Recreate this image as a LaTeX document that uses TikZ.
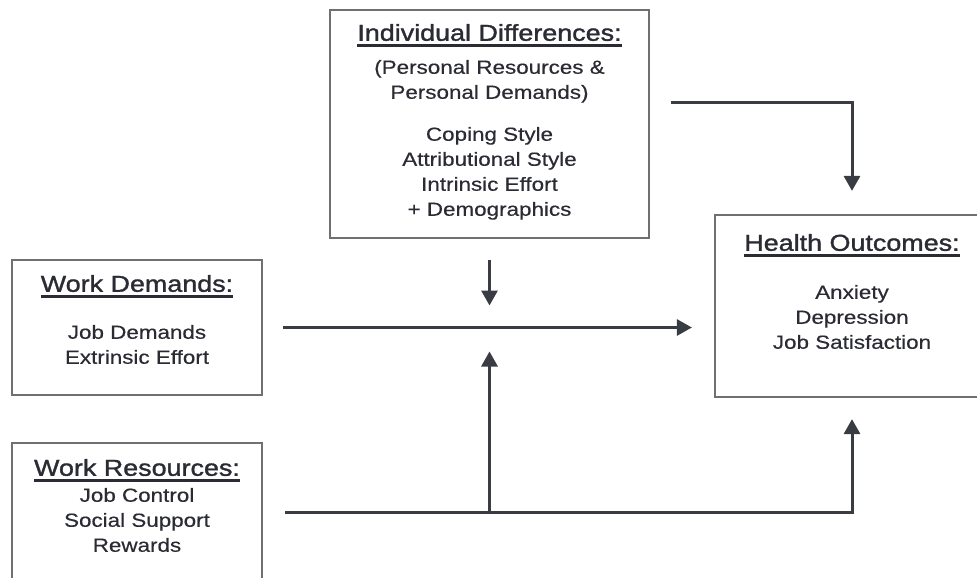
\documentclass[tikz,border=0pt]{standalone}
\usepackage{fontspec}
\setmainfont{Liberation Sans}[FakeStretch=1.18,FakeBold=0.4]
\newfontfamily\ttlfont{Liberation Sans}[FakeStretch=1.17,FakeBold=1.4]
\usetikzlibrary{arrows.meta,positioning}
\definecolor{ink}{HTML}{2A2B33}
\definecolor{rim}{HTML}{707070}
\definecolor{wire}{HTML}{393C43}
\newsavebox\hdrbox
\newcommand\hdr[1]{\sbox\hdrbox{#1}\rlap{\rule[-6pt]{\wd\hdrbox}{2.4pt}}\usebox\hdrbox}
\newcommand\ttlsize{\ttlfont\fontsize{23}{25}\selectfont}
\newcommand\bodysize{\fontsize{19}{25}\selectfont}

\begin{document}
\begin{tikzpicture}[
        x=1pt,y=-1pt,
        panel/.style={draw=rim,line width=2.2pt,fill=white,inner sep=0pt},
        txt/.style={text=ink,align=center,inner sep=0pt,font=\bodysize},
        arr/.style={-{Triangle[length=15pt,width=16pt]},line width=3pt,draw=wire}
      ]
        \useasboundingbox (0,0) rectangle (977,578);
        % boxes
        \node[panel,minimum width=319pt,minimum height=228pt] (ind) at (489.5,124) {};
        \node[panel,minimum width=274pt,minimum height=182pt] (hlth) at (852,306) {};
        \node[panel,minimum width=250pt,minimum height=135pt] (dem) at (137,327.5) {};
        \node[panel,minimum width=250pt,minimum height=138pt] (res) at (137,512) {};
        % box texts
        \node[txt,below=15pt of ind.north] (indtxt) {{\ttlsize\hdr{Individual Differences:}}\\[8pt]
          (Personal Resources \&\\Personal Demands)\\[17pt]
          Coping Style\\Attributional Style\\Intrinsic Effort\\+ Demographics};
        \node[txt,below=20pt of hlth.north] (hlthtxt) {{\ttlsize\hdr{Health Outcomes:}}\\[23pt]
          Anxiety\\Depression\\Job Satisfaction};
        \node[txt,below=16pt of dem.north] (demtxt) {{\ttlsize\hdr{Work Demands:}}\\[22pt]
          Job Demands\\Extrinsic Effort};
        \node[txt,below=17pt of res.north] (restxt) {{\ttlsize\hdr{Work Resources:}}\\[1pt]
          Job Control\\Social Support\\Rewards};
        % connectors
        \coordinate (mid) at (ind.south |- dem.east);
        \coordinate (hin) at (hlth.west |- dem.east);
        \draw[arr] ([xshift=21pt,yshift=22pt]ind.east) -| ([yshift=23pt]hlth.north);
        \draw[arr] ([yshift=-21pt]ind.south) -- ([yshift=22pt]mid);
        \draw[arr] ([xshift=20pt]dem.east) -- ([xshift=-22pt]hin);
        \draw[arr] ([xshift=22pt]res.east) -| ([yshift=-21pt]hlth.south);
        \draw[arr] (mid |- res.east) -- ([yshift=-24pt]mid);
      \end{tikzpicture}
\end{document}
